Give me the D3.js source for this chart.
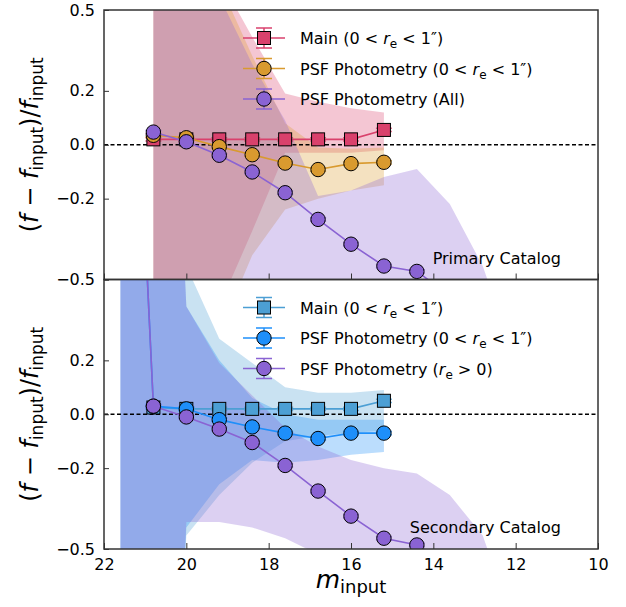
<!DOCTYPE html>
<html>
<head>
<meta charset="utf-8">
<script src="https://cdn.jsdelivr.net/npm/d3@7"></script>
<style>
  html, body { margin: 0; padding: 0; background: #fff; }
  svg { display: block; }
  text { font-family: "DejaVu Sans", sans-serif; }
</style>
</head>
<body>
<svg id="chart" width="626" height="607"></svg>
<script>
// ---------- data ----------
// magnitude bins (m_input)
const magsTop = [20.8, 20.0, 19.2, 18.4, 17.6, 16.8, 16.0, 15.2];
const magsTopAll = [20.8, 20.0, 19.2, 18.4, 17.6, 16.8, 16.0, 15.2, 14.4, 13.6, 12.8, 12.0];
const magsBot = [21.6, 20.8, 20.0, 19.2, 18.4, 17.6, 16.8, 16.0, 15.2];
const magsBotAll = [21.6, 20.8, 20.0, 19.2, 18.4, 17.6, 16.8, 16.0, 15.2, 14.4, 13.6, 12.8, 12.0];

// Primary catalog: medians and 16th-84th percentile ranges
const primMain     = [0.020, 0.020, 0.020, 0.020, 0.020, 0.020, 0.020, 0.055];
const primMainLo   = [-3, -3, -0.60, -0.32, -0.03, -0.03, -0.03, -0.02];
const primMainHi   = [3, 3, 0.62, 0.40, 0.19, 0.16, 0.135, 0.12];
const primPsf      = [0.035, 0.026, -0.007, -0.037, -0.068, -0.092, -0.070, -0.065];
const primPsfLo    = [-3, -3, -0.70, -0.41, -0.24, -0.20, -0.17, -0.15];
const primPsfHi    = [3, 3, 0.60, 0.33, 0.08, -0.01, -0.015, -0.01];
const primAll      = [0.047, 0.011, -0.039, -0.101, -0.178, -0.277, -0.369, -0.450, -0.470, -0.560, -0.650, null];
const primAllLo    = [-3, -3, -3, -3, -3, -3, -3, -3, -3, -3, -3, -3];
const primAllHi    = [3, 3, 0.55, 0.30, 0.09, -0.19, -0.17, -0.12, -0.09, -0.22, -0.45, -0.80];

// Secondary catalog
const secMain      = [null, 0.025, 0.020, 0.020, 0.020, 0.020, 0.020, 0.020, 0.050];
const secMainLo    = [-3, -3, -0.45, -0.30, -0.18, -0.10, -0.08, -0.07, -0.06];
const secMainHi    = [3, 3, 0.55, 0.28, 0.19, 0.10, 0.08, 0.08, 0.09];
const secPsf       = [2.6, 0.030, 0.020, -0.020, -0.047, -0.070, -0.090, -0.070, -0.070];
const secPsfLo     = [-3, -3, -0.42, -0.26, -0.17, -0.18, -0.17, -0.15, -0.14];
const secPsfHi     = [3, 3, 0.40, 0.20, 0.06, 0.00, -0.02, -0.02, -0.02];
const secAll       = [2.6, 0.030, -0.010, -0.055, -0.105, -0.190, -0.285, -0.378, -0.460, -0.485, -0.560, -0.650, null];
const secAllLo     = [-3, -3, -0.40, -0.40, -0.42, -0.46, -0.52, -0.65, -0.80, -0.90, -1, -1, -1];
const secAllHi     = [3, 3, 0.40, 0.19, 0.07, -0.05, -0.12, -0.17, -0.20, -0.22, -0.30, -0.45, -0.80];

// axis ticks
const xTicks = [22, 20, 18, 16, 14, 12, 10];
const yTicks = [-0.5, -0.2, 0.0, 0.2, 0.5];

// ---------- layout ----------
const svg = d3.select("#chart");
const L = 104, R = 598;
const panels = [
  { top: 10, bottom: 279.5, name: "Primary Catalog" },
  { top: 279.5, bottom: 549, name: "Secondary Catalog" }
];

const x = d3.scaleLinear().domain([22, 10]).range([L, R]);

const colors = {
  red: "#d9416c", orange: "#d99a2f", purple: "#8a63d3",
  steel: "#4c9fd4", blue: "#1e8ffa"
};

function drawPanel(p, idx, series, legendItems) {
  const y = d3.scaleLinear().domain([-0.5, 0.5]).range([p.bottom, p.top]);
  const g = svg.append("g");
  const clipId = "clip" + idx;
  svg.append("clipPath").attr("id", clipId)
    .append("rect").attr("x", L).attr("y", p.top).attr("width", R - L).attr("height", p.bottom - p.top);
  const plot = g.append("g").attr("clip-path", `url(#${clipId})`);

  // shaded percentile ranges
  series.forEach(s => {
    const pts = s.mags.map((m, i) => ({ m, lo: s.lo[i], hi: s.hi[i] }));
    const area = d3.area().x(d => x(d.m)).y0(d => y(d.lo)).y1(d => y(d.hi));
    plot.append("path").attr("d", area(pts))
      .attr("fill", s.color).attr("fill-opacity", 0.3).attr("stroke", "none");
  });

  // zero reference
  plot.append("line").attr("x1", L).attr("x2", R).attr("y1", y(0)).attr("y2", y(0))
    .attr("stroke", "#000").attr("stroke-width", 1.3).attr("stroke-dasharray", "4,2.5");

  // lines, error bars, markers
  series.forEach(s => {
    const pts = s.mags.map((m, i) => ({ m, v: s.vals[i] })).filter(d => d.v !== null);
    const line = d3.line().x(d => x(d.m)).y(d => y(d.v));
    plot.append("path").attr("d", line(pts)).attr("fill", "none")
      .attr("stroke", s.color).attr("stroke-width", 1.6);
    const err = 0.006;
    pts.forEach(d => {
      const cx = x(d.m);
      plot.append("line").attr("x1", cx).attr("x2", cx).attr("y1", y(d.v + err)).attr("y2", y(d.v - err))
        .attr("stroke", s.color).attr("stroke-width", 1.5);
      [d.v + err, d.v - err].forEach(e => {
        plot.append("line").attr("x1", cx - 8).attr("x2", cx + 8).attr("y1", y(e)).attr("y2", y(e))
          .attr("stroke", s.color).attr("stroke-width", 1.5).attr("stroke-opacity", 0.8);
      });
    });
    pts.forEach(d => {
      const cx = x(d.m), cy = y(d.v);
      if (s.marker === "square") {
        plot.append("rect").attr("x", cx - 6.5).attr("y", cy - 6.5).attr("width", 13).attr("height", 13)
          .attr("fill", s.color).attr("stroke", "#000").attr("stroke-width", 1);
      } else {
        plot.append("circle").attr("cx", cx).attr("cy", cy).attr("r", 7.2)
          .attr("fill", s.color).attr("stroke", "#000").attr("stroke-width", 1);
      }
    });
  });

  // frame
  g.append("rect").attr("x", L).attr("y", p.top).attr("width", R - L).attr("height", p.bottom - p.top)
    .attr("fill", "none").attr("stroke", "#333").attr("stroke-width", 1.5);

  // y ticks (inward)
  const yAxis = d3.axisLeft(y).tickValues(yTicks).tickSize(-5).tickPadding(9)
    .tickFormat(d => (idx === 1 && d === 0.5) ? "" : d3.format(".1f")(d).replace("-", "\u2212"));
  const ya = g.append("g").attr("transform", `translate(${L},0)`).call(yAxis);
  ya.select(".domain").remove();
  ya.selectAll("line").attr("stroke", "#333").attr("stroke-width", 1);
  ya.selectAll("text").attr("font-size", 16).attr("fill", "#000");

  // x ticks (inward)
  const xAxis = d3.axisBottom(x).tickValues(xTicks).tickSize(-6).tickPadding(10)
    .tickFormat(idx === 1 ? d3.format("d") : () => "");
  const xa = g.append("g").attr("transform", `translate(0,${p.bottom})`).call(xAxis);
  xa.select(".domain").remove();
  xa.selectAll("line").attr("stroke", "#333").attr("stroke-width", 1);
  xa.selectAll("text").attr("font-size", 16).attr("fill", "#000");

  // y label
  const yl = g.append("text").attr("transform", `translate(38,${(p.top + p.bottom) / 2}) rotate(-90)`)
    .attr("text-anchor", "middle").attr("font-size", 24);
  yl.append("tspan").text("(");
  yl.append("tspan").attr("font-style", "italic").text("f");
  yl.append("tspan").text(" \u2212 ");
  yl.append("tspan").attr("font-style", "italic").text("f");
  yl.append("tspan").attr("font-size", 17).attr("dy", 5).text("input");
  yl.append("tspan").attr("dy", -5).text(")/");
  yl.append("tspan").attr("font-style", "italic").text("f");
  yl.append("tspan").attr("font-size", 17).attr("dy", 5).text("input");

  // catalog name
  g.append("text").attr("x", 561).attr("y", p.bottom - 16).attr("text-anchor", "end")
    .attr("font-size", 16).text(p.name);

  // legend
  const lg = g.append("g").attr("transform", `translate(0,${p.top})`);
  legendItems.forEach((it, i) => {
    const ly = 28 + i * 30.5;
    const hx = 264;
    lg.append("line").attr("x1", hx - 21).attr("x2", hx + 21).attr("y1", ly).attr("y2", ly)
      .attr("stroke", it.color).attr("stroke-width", 1.6);
    lg.append("line").attr("x1", hx).attr("x2", hx).attr("y1", ly - 10).attr("y2", ly + 10)
      .attr("stroke", it.color).attr("stroke-width", 1.5);
    [ly - 10, ly + 10].forEach(cy => lg.append("line").attr("x1", hx - 8).attr("x2", hx + 8)
      .attr("y1", cy).attr("y2", cy).attr("stroke", it.color).attr("stroke-width", 1.5));
    if (it.marker === "square") {
      lg.append("rect").attr("x", hx - 6.5).attr("y", ly - 6.5).attr("width", 13).attr("height", 13)
        .attr("fill", it.color).attr("stroke", "#000");
    } else {
      lg.append("circle").attr("cx", hx).attr("cy", ly).attr("r", 7.2).attr("fill", it.color).attr("stroke", "#000");
    }
    const t = lg.append("text").attr("x", 300).attr("y", ly + 6).attr("font-size", 16);
    it.label.forEach(part => {
      const sp = t.append("tspan").text(part.t);
      if (part.i) sp.attr("font-style", "italic");
      if (part.sub) sp.attr("font-size", 12).attr("dy", 4);
      if (part.up) sp.attr("dy", -4);
    });
  });
}

const reLabel = (prefix) => [
  { t: prefix + "(0 < " }, { t: "r", i: true }, { t: "e", sub: true }, { t: " < 1\u2033)", up: true }
];

// drawn in order: Main, PSF subset, PSF full sample (on top)
drawPanel(panels[0], 0, [
  { mags: magsTop, vals: primMain, lo: primMainLo, hi: primMainHi, color: colors.red, marker: "square" },
  { mags: magsTop, vals: primPsf, lo: primPsfLo, hi: primPsfHi, color: colors.orange, marker: "circle" },
  { mags: magsTopAll, vals: primAll, lo: primAllLo, hi: primAllHi, color: colors.purple, marker: "circle" }
], [
  { color: colors.red, marker: "square", label: reLabel("Main ") },
  { color: colors.orange, marker: "circle", label: reLabel("PSF Photometry ") },
  { color: colors.purple, marker: "circle", label: [{ t: "PSF Photometry (All)" }] }
]);

drawPanel(panels[1], 1, [
  { mags: magsBot, vals: secMain, lo: secMainLo, hi: secMainHi, color: colors.steel, marker: "square" },
  { mags: magsBot, vals: secPsf, lo: secPsfLo, hi: secPsfHi, color: colors.blue, marker: "circle" },
  { mags: magsBotAll, vals: secAll, lo: secAllLo, hi: secAllHi, color: colors.purple, marker: "circle" }
], [
  { color: colors.steel, marker: "square", label: reLabel("Main ") },
  { color: colors.blue, marker: "circle", label: reLabel("PSF Photometry ") },
  { color: colors.purple, marker: "circle", label: [{ t: "PSF Photometry (" }, { t: "r", i: true }, { t: "e", sub: true }, { t: " > 0)", up: true }] }
]);

// x label
const xl = svg.append("text").attr("x", (L + R) / 2).attr("y", 588).attr("text-anchor", "middle").attr("font-size", 25);
xl.append("tspan").attr("font-style", "italic").text("m");
xl.append("tspan").attr("font-size", 18).attr("dy", 5).text("input");
</script>
</body>
</html>
